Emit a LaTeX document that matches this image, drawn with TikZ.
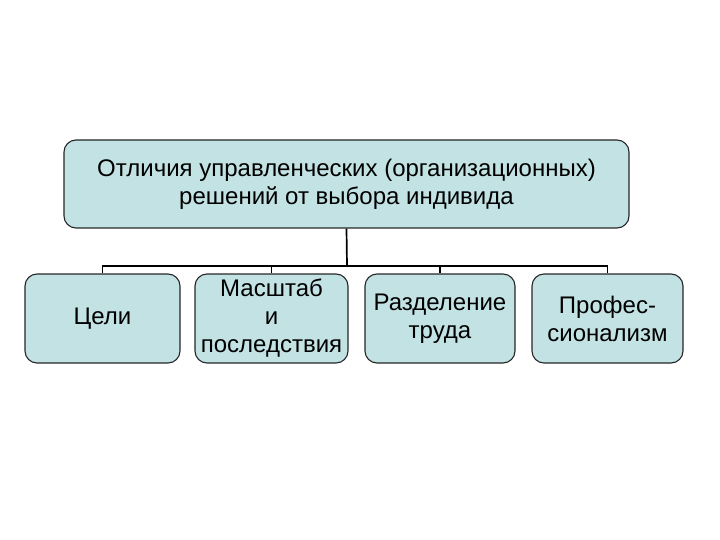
\documentclass[tikz,border=0pt]{standalone}
\usepackage{fontspec}
\setmainfont{Liberation Sans}
\usepackage{tikz}
\usetikzlibrary{arrows,shapes}
\definecolor{boxfill}{RGB}{194,226,227}
\tikzstyle{block} = [rectangle, draw=black!85, line width=1.1pt, fill=boxfill,
align=center, rounded corners=12pt, minimum height=89pt, inner sep=2pt, font=\fontsize{24}{28}\selectfont]
\tikzstyle{line} = [draw, line width=1.7pt]

\begin{document}
\begin{tikzpicture}[x=1pt,y=-1pt]
         \useasboundingbox (0,0) rectangle (720,540);

         \node (Diff)  [block, minimum width=565pt, minimum height=88pt] at (346.5,184) {Отличия управленческих (организационных)\\решений от выбора индивида};

         \node (Goals) [block, minimum width=155pt] at (102.5,318.5) {Цели};
         \node (Scale) [block, minimum width=153pt] at (271.5,318.5) {Масштаб\\и\\последствия};
         \node (Labor) [block, minimum width=150pt] at (440,318.5) {Разделение\\труда};
         \node (Prof)  [block, minimum width=151pt] at (607.5,318.5) {Профес-\\сионализм};

         \coordinate (bus) at (347,266);

         \path [line] (Diff.south) -- (bus);
         \path [line] (Goals.north) |- (bus);
         \path [line] (Scale.north) |- (bus);
         \path [line] (Labor.north) |- (bus);
         \path [line] (Prof.north) |- (bus);

     \end{tikzpicture}
\end{document}
